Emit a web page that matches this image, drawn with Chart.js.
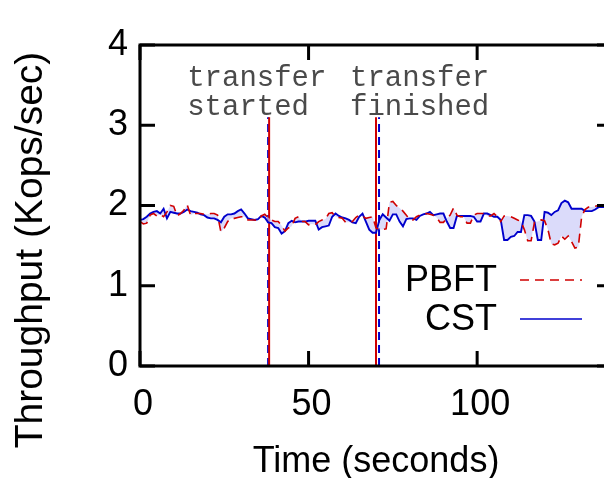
<!DOCTYPE html>
<html><head><meta charset="utf-8">
<script src="https://cdn.jsdelivr.net/npm/chart.js@4/dist/chart.umd.min.js"></script>
<style>html,body{margin:0;padding:0;overflow:hidden;background:#fff}#wrap{width:616px;height:478px;position:relative}</style>
</head><body><div id="wrap"><canvas id="c" width="616" height="478"></canvas></div>
<script>
// Time (seconds), one sample per second
const time = Array.from({length:141},(_,i)=>i);
// Throughput (Kops/sec)
const pbft = [1.80,1.77,1.78,1.88,1.90,1.87,1.89,1.86,1.92,2.00,1.99,1.87,1.90,1.94,2.01,1.88,1.90,1.90,1.90,1.89,
1.89,1.90,1.90,1.88,1.67,1.72,1.80,1.84,1.84,1.85,1.86,1.86,1.82,1.82,1.82,1.81,1.87,1.89,1.85,1.82,
1.80,1.80,1.75,1.68,1.72,1.74,1.84,1.86,1.80,1.80,1.76,1.77,1.76,1.80,1.82,1.83,1.90,1.91,1.86,1.85,
1.84,1.79,1.79,1.80,1.85,1.88,1.87,1.84,1.85,1.86,1.72,1.70,1.70,1.71,2.04,2.05,2.00,1.97,1.93,1.88,
1.82,1.82,1.86,1.88,1.89,1.90,1.89,1.88,1.85,1.79,1.79,1.84,1.88,1.97,1.88,1.86,1.86,1.78,1.78,1.88,
1.90,1.90,1.90,1.87,1.87,1.90,1.86,1.80,1.87,1.87,1.86,1.84,1.82,1.80,1.70,1.56,1.56,1.79,1.80,1.82,
1.81,1.70,1.52,1.51,1.53,1.62,1.58,1.62,1.55,1.47,1.48,1.86,1.95,1.98,1.98,1.99,2.00,2.00,2.00,2.00,2.00];
const cst = [1.82,1.83,1.86,1.90,1.92,1.93,1.90,1.96,1.84,1.92,1.91,1.90,1.90,1.92,1.95,1.93,1.92,1.91,1.89,1.88,
1.85,1.84,1.84,1.82,1.79,1.86,1.89,1.89,1.90,1.93,1.95,1.90,1.84,1.83,1.82,1.83,1.87,1.85,1.79,1.78,
1.73,1.72,1.65,1.68,1.78,1.81,1.79,1.80,1.80,1.80,1.81,1.81,1.81,1.70,1.73,1.74,1.75,1.86,1.90,1.87,
1.85,1.84,1.82,1.79,1.78,1.86,1.90,1.80,1.70,1.66,1.66,1.82,1.89,1.85,1.81,1.89,1.89,1.80,1.74,1.83,
1.84,1.84,1.82,1.87,1.89,1.90,1.92,1.88,1.89,1.90,1.90,1.80,1.72,1.72,1.87,1.87,1.87,1.87,1.87,1.86,
1.80,1.80,1.90,1.90,1.88,1.86,1.86,1.82,1.57,1.57,1.61,1.62,1.67,1.67,1.88,1.88,1.87,1.80,1.57,1.57,
1.92,1.91,1.88,1.92,1.94,2.03,2.06,2.04,1.96,1.96,1.96,1.96,1.93,1.93,1.93,1.95,1.98,1.98,1.98,1.99,1.99];
// Transfer markers (seconds) per system, and marker height
const transferStarted = {PBFT:38.3, CST:38.0};
const transferFinished = {PBFT:70.0, CST:70.9};
const markerTop = 3.1;
const xTicks = [0,50,100];
const yTicks = [0,1,2,3,4];
const annotations = [{lines:['transfer','started'], t:14.0}, {lines:['transfer','finished'], t:62.3}];
const yTitle = 'Throughput (Kops/sec)';

const RED = '#d00000', BLUE = '#0000cc';
const SANS = "'Liberation Sans', Arial, sans-serif";
const pts = arr => time.map((t,i)=>({x:t,y:arr[i]}));
const vline = (t,label,color,dash) => ({label, data:[{x:t,y:0},{x:t,y:markerTop}], borderColor:color, borderWidth:2, borderDash:dash, pointRadius:0, fill:false, isMarker:true});

const frame = {
  id:'frame',
  afterDatasetsDraw(chart){
    const {ctx, chartArea:a, scales:{x,y}} = chart;
    ctx.save();
    ctx.strokeStyle='#000'; ctx.lineWidth=3;
    const L=15;
    ctx.beginPath();
    xTicks.forEach(v=>{const px=x.getPixelForValue(v); ctx.moveTo(px,a.bottom); ctx.lineTo(px,a.bottom-L); ctx.moveTo(px,a.top); ctx.lineTo(px,a.top+L);});
    yTicks.forEach(v=>{const py=y.getPixelForValue(v); ctx.moveTo(a.left,py); ctx.lineTo(a.left+L,py); ctx.moveTo(a.right,py); ctx.lineTo(a.right-L,py);});
    ctx.stroke();
    ctx.strokeRect(a.left,a.top,a.right-a.left,a.bottom-a.top);
    // annotations
    ctx.fillStyle='#4a4a4a'; ctx.font="29px 'Liberation Mono', 'DejaVu Sans Mono', monospace";
    ctx.textAlign='left'; ctx.textBaseline='middle';
    annotations.forEach(an=>{
      const px=x.getPixelForValue(an.t);
      an.lines.forEach((s,i)=>ctx.fillText(s,px,y.getPixelForValue(3.59)+i*29));
    });
    // y axis title
    ctx.save();
    ctx.translate(31, 250); ctx.rotate(-Math.PI/2);
    ctx.font='39px '+SANS; ctx.fillStyle='#000'; ctx.textAlign='center'; ctx.textBaseline='middle';
    ctx.fillText(yTitle,0,0);
    ctx.restore();
    // legend
    const items = chart.data.datasets.filter(d=>!d.isMarker);
    ctx.font = '36px '+SANS; ctx.fillStyle='#000'; ctx.textAlign='right'; ctx.textBaseline='middle';
    items.forEach((d,i)=>{
      const cy = 280 + i*39;
      ctx.fillText(d.label, 497, cy+1);
      ctx.save(); ctx.strokeStyle=d.borderColor; ctx.lineWidth=1.6; ctx.setLineDash(d.borderDash||[]);
      ctx.beginPath(); ctx.moveTo(520,cy); ctx.lineTo(582,cy); ctx.stroke(); ctx.restore();
    });
    ctx.restore();
  }
};

new Chart(document.getElementById('c'), {
  type:'line',
  data:{datasets:[
    {label:'PBFT', data:pts(pbft), borderColor:RED, borderWidth:1.6, borderDash:[9,6], pointRadius:0, fill:false, tension:0},
    {label:'CST', data:pts(cst), borderColor:BLUE, borderWidth:1.9, pointRadius:0, tension:0, fill:{target:0}, backgroundColor:'rgba(200,200,248,0.65)'},
    vline(transferStarted.PBFT,'m1',RED,[]),
    vline(transferStarted.CST,'m2',BLUE,[8,5]),
    vline(transferFinished.PBFT,'m3',RED,[]),
    vline(transferFinished.CST,'m4',BLUE,[8,5])
  ]},
  options:{
    responsive:false, animation:false, devicePixelRatio:1,
    layout:{padding:{top:45,right:4,left:0,bottom:0}},
    plugins:{legend:{display:false}, tooltip:{enabled:false}},
    scales:{
      x:{type:'linear', min:0, max:140,
        afterBuildTicks:s=>{s.ticks=xTicks.map(v=>({value:v}));},
        afterFit:s=>{s.height=112;},
        grid:{display:false, drawTicks:false}, border:{display:false},
        ticks:{font:{family:SANS,size:36}, color:'#000', padding:17, labelOffset:3},
        title:{display:true, text:'Time (seconds)', font:{family:SANS,size:36}, color:'#000', padding:{top:0,bottom:-6}}
      },
      y:{min:0, max:4,
        afterBuildTicks:s=>{s.ticks=yTicks.map(v=>({value:v}));},
        afterFit:s=>{s.width=140;},
        grid:{display:false, drawTicks:false}, border:{display:false},
        ticks:{font:{family:SANS,size:36}, color:'#000', padding:12},
        title:{display:false}
      }
    }
  },
  plugins:[frame]
});
</script></body></html>
